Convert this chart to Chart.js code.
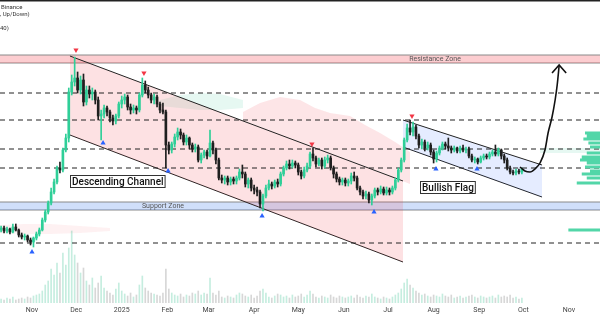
<!DOCTYPE html>
<html>
<head>
<meta charset="utf-8">
<script src="https://cdn.jsdelivr.net/npm/chart.js@4.4.0/dist/chart.umd.min.js"></script>
<style>
  html, body { margin: 0; padding: 0; background: #fff; }
  #wrap { width: 600px; height: 315px; }
</style>
</head>
<body>
<div id="wrap"><canvas id="myChart" width="600" height="315"></canvas></div>
<script>
// x values are days counted from 1 Nov 2024
const monthDays = [0, 30, 61, 92, 120, 151, 181, 212, 242, 273, 304, 334, 365]
const monthLabels = ['Nov', 'Dec', '2025', 'Feb', 'Mar', 'Apr', 'May', 'Jun', 'Jul', 'Aug', 'Sep', 'Oct', 'Nov']

// 2-day candles, first one on 11 Oct 2024
const firstDay = -21
const open = [70, 72, 69, 71, 68, 73, 70, 65, 63, 64, 60, 58, 62, 66, 70, 80, 88, 97, 108, 118,
  132, 130, 150, 162, 208, 218, 222, 210, 220, 198, 210, 206, 208, 200, 184, 186, 192, 188, 182, 179,
  184, 196, 200, 203, 193, 190, 192, 190, 205, 215, 210, 205, 200, 203, 196, 190, 188, 155, 150, 156,
  163, 168, 165, 158, 162, 155, 151, 153, 140, 145, 148, 144, 157, 150, 140, 122, 120, 122, 118, 121,
  119, 122, 128, 126, 116, 120, 112, 110, 108, 96, 104, 112, 116, 114, 118, 116, 126, 132, 136, 134,
  137, 135, 128, 124, 130, 134, 146, 142, 136, 140, 134, 140, 142, 132, 126, 121, 118, 120, 117, 119,
  124, 122, 112, 108, 104, 106, 100, 104, 110, 108, 111, 107, 110, 108, 112, 120, 130, 140, 160, 172,
  168, 173, 164, 155, 158, 152, 155, 148, 141, 147, 152, 156, 154, 152, 150, 152, 149, 152, 150, 151,
  144, 140, 141, 138, 142, 144, 143, 146, 148, 146, 150, 144, 140, 132, 128, 127, 129, 128]
const high = [74, 74, 73, 72, 76, 76, 71, 67, 66, 65, 62, 63, 68, 72, 82, 90, 99, 112, 121, 134,
  138, 152, 166, 212, 225, 243, 228, 224, 226, 214, 214, 212, 210, 203, 190, 195, 194, 190, 185, 186,
  198, 204, 206, 205, 196, 195, 194, 207, 222, 219, 213, 207, 206, 205, 198, 197, 190, 158, 158, 166,
  172, 171, 167, 165, 163, 157, 156, 155, 147, 150, 150, 170, 159, 152, 142, 125, 124, 124, 123, 123,
  124, 131, 135, 128, 122, 122, 115, 113, 110, 106, 115, 120, 118, 120, 121, 128, 134, 139, 140, 140,
  139, 137, 130, 133, 137, 148, 152, 144, 142, 142, 143, 145, 144, 134, 128, 123, 122, 122, 121, 127,
  128, 124, 114, 110, 109, 108, 106, 112, 112, 114, 113, 113, 112, 114, 122, 132, 142, 162, 176, 180,
  178, 175, 166, 161, 160, 158, 157, 150, 149, 154, 158, 158, 162, 154, 154, 153, 154, 155, 153, 153,
  146, 143, 142, 144, 146, 146, 148, 150, 155, 152, 151, 146, 142, 134, 130, 131, 131, 132]
const low = [68, 67, 67, 66, 67, 69, 63, 61, 60, 58, 55, 53, 60, 64, 69, 78, 86, 95, 106, 116,
  127, 128, 148, 158, 205, 214, 207, 206, 194, 195, 202, 200, 196, 180, 160, 182, 184, 178, 175, 176,
  182, 192, 196, 190, 186, 187, 186, 188, 203, 207, 202, 197, 196, 193, 187, 186, 132, 146, 147, 153,
  160, 161, 155, 155, 151, 148, 148, 138, 137, 142, 141, 143, 146, 136, 120, 117, 116, 115, 115, 116,
  116, 120, 122, 113, 112, 109, 106, 104, 92, 89, 102, 110, 111, 112, 113, 114, 124, 130, 131, 132,
  132, 125, 121, 122, 128, 132, 139, 133, 134, 131, 132, 137, 130, 122, 118, 115, 115, 114, 114, 116,
  119, 110, 105, 101, 101, 97, 95, 102, 105, 106, 105, 105, 105, 106, 110, 118, 128, 138, 158, 165,
  164, 161, 152, 151, 149, 150, 145, 137, 138, 145, 150, 151, 149, 147, 148, 147, 147, 148, 147, 142,
  138, 137, 136, 137, 140, 141, 141, 144, 144, 144, 141, 137, 130, 126, 125, 125, 126, 126]
const close = [72, 69, 71, 68, 73, 70, 65, 63, 64, 60, 58, 62, 66, 70, 80, 88, 97, 108, 118, 132,
  130, 150, 162, 208, 218, 222, 210, 220, 198, 210, 206, 208, 200, 184, 186, 192, 188, 182, 179, 184,
  196, 200, 203, 193, 190, 192, 190, 205, 215, 210, 205, 200, 203, 196, 190, 188, 155, 150, 156, 163,
  168, 165, 158, 162, 155, 151, 153, 140, 145, 148, 144, 157, 150, 140, 122, 120, 122, 118, 121, 119,
  122, 128, 126, 116, 120, 112, 110, 108, 96, 104, 112, 116, 114, 118, 116, 126, 132, 136, 134, 137,
  135, 128, 124, 130, 134, 146, 142, 136, 140, 134, 140, 142, 132, 126, 121, 118, 120, 117, 119, 124,
  122, 112, 108, 104, 106, 100, 104, 110, 108, 111, 107, 110, 108, 112, 120, 130, 140, 160, 172, 168,
  173, 164, 155, 158, 152, 155, 148, 141, 147, 152, 156, 154, 152, 150, 152, 149, 152, 150, 151, 144,
  140, 141, 138, 142, 144, 143, 146, 148, 146, 150, 144, 140, 132, 128, 127, 129, 128, 131]
const volume = [4, 3, 5, 4, 6, 3, 4, 5, 4, 6, 5, 7, 8, 9, 12, 18, 22, 34, 28, 40,
  30, 50, 38, 55, 72, 48, 40, 30, 35, 22, 18, 25, 15, 20, 27, 15, 12, 10, 8, 14,
  20, 12, 9, 7, 10, 6, 8, 18, 27, 15, 12, 10, 9, 8, 7, 10, 34, 14, 10, 8,
  7, 9, 6, 8, 7, 10, 9, 12, 8, 10, 9, 25, 10, 8, 12, 6, 5, 7, 6, 5,
  8, 10, 9, 7, 6, 8, 5, 7, 12, 14, 10, 6, 5, 7, 9, 8, 6, 7, 5, 8,
  6, 7, 9, 6, 8, 12, 9, 6, 5, 7, 6, 5, 8, 6, 5, 7, 6, 5, 6, 7,
  5, 8, 6, 5, 7, 6, 9, 6, 5, 4, 6, 5, 4, 6, 8, 10, 14, 20, 24, 18,
  15, 12, 10, 8, 9, 7, 6, 8, 7, 6, 9, 7, 6, 8, 5, 6, 7, 5, 6, 7,
  8, 6, 5, 7, 6, 5, 6, 7, 5, 8, 6, 7, 6, 8, 5, 6, 4, 5]

// horizontal levels
const dashedLevels = [207, 180, 151, 132, 57]
const resistanceZone = [237, 245]
const supportZone = [90, 98]

// descending channel and bullish flag (start / end)
const channelDays = [25.8, 252.2]
const channelUpper = [244, 119]
const channelLower = [165, 38]
const flagDays = [252.2, 346.7]
const flagUpper = [180, 135]
const flagLower = [153, 103]

// swing markers
const topDays = [29.9, 76.1, 190.3, 258.3]
const topValues = [250, 227, 156, 184]
const bottomDays = [0, 48.3, 92.5, 156.4, 232.5, 274.6, 302.5]
const bottomValues = [48, 157, 129, 84, 88, 131, 131]

// projected move
const arrowDays = [331.7, 335.1, 338.5, 341.9, 345.3, 348.7, 350.8, 353.5, 355.6, 357, 358.3]
const arrowValues = [133, 129, 128, 131, 137, 150, 167, 183, 200, 215, 234]
const arrowHeadDays = [353.5, 358.3, 363.1]
const arrowHeadValues = [227, 235, 227]

// cloud shading
const cloudADays = [-21.7, -4.8, 12.2, 32.6, 53]
const cloudATop = [75, 76, 76, 74, 72]
const cloudABottom = [67, 66, 66, 67, 69]
const cloudBDays = [87, 100.6, 114.2, 127.8, 143.4]
const cloudBTop = [200, 205, 207, 206, 200]
const cloudBBottom = [194, 192, 190, 190, 192]
const cloudCDays = [143.4, 155, 168.6, 182.2, 192.4, 202.6, 216.2, 226.4, 236.6, 246.8, 257]
const cloudCTop = [188, 197, 203, 200, 192, 187, 184, 175, 167, 158, 148]
const cloudCBottom = [179, 173, 165, 158, 152, 146, 139, 133, 128, 122, 116]
const cloudDDays = [345.3, 386.1]
const cloudDTop = [152, 152]
const cloudDBottom = [147, 147]

// volume profile rows
const profileValues = [167, 164, 161, 157, 153, 147, 143, 140, 137, 133, 129, 126, 122, 117, 70]
const profileStart = [375.9, 377.1, 374.8, 378.2, 379.3, 377.1, 373.7, 372.5, 377.1, 375.9, 379.3, 373.7, 377.1, 370.3, 364.6]

const xMin = -21.75
const xMax = 386.1

const upColor = '#2fcf98'
const downColor = '#1f1f1f'
const pink = 'rgba(242, 54, 69, 0.13)'
const teal = 'rgba(46, 200, 150, 0.12)'

let candleDays = open.map((v, i) => firstDay + 2 * i)
let candleColors = close.map((c, i) => c >= open[i] ? upColor : downColor)
let volumeColors = close.map((c, i) => c >= open[i] ? 'rgba(46, 190, 140, 0.28)' : 'rgba(110, 110, 110, 0.28)')

function pts(days, values) {
    return days.map((d, i) => ({ x: d, y: values[i] }))
}

function flatLine(v) {
    return [{ x: xMin, y: v }, { x: xMax, y: v }]
}

function band(top, bottom, fillColor, border, order) {
    return [
        { type: 'line', data: top, borderColor: border, borderWidth: border ? 1 : 0, backgroundColor: fillColor, fill: '+1', pointRadius: 0, order: order },
        { type: 'line', data: bottom, borderColor: border, borderWidth: border ? 1 : 0, pointRadius: 0, fill: false, order: order }
    ]
}

let dashedData = []
dashedLevels.forEach((v) => {
    dashedData.push({ x: xMin, y: v }, { x: xMax, y: v }, { x: xMax, y: null })
})

let profileData = []
profileValues.forEach((v, i) => {
    profileData.push({ x: profileStart[i], y: v }, { x: xMax, y: v }, { x: xMax, y: null })
})

const labels = {
    id: 'labels',
    afterDatasetsDraw(chart) {
        const c = chart.ctx
        c.save()
        // top frame line
        c.fillStyle = '#222'
        c.fillRect(0, 0, 600, 1.5)

        c.fillStyle = '#333'
        c.font = '6px Roboto'
        c.textBaseline = 'middle'
        c.fillText('Binance', 1, 7)
        c.fillText(', Up/Down)', 0, 14)
        c.fillText('40)', 0, 28)

        c.fillStyle = '#555'
        c.font = '7px Roboto'
        c.textAlign = 'center'
        let ys = chart.scales.y
        c.fillText('Resistance Zone', 435, ys.getPixelForValue((resistanceZone[0] + resistanceZone[1]) / 2))
        c.fillText('Support Zone', 163, ys.getPixelForValue((supportZone[0] + supportZone[1]) / 2))

        drawBox(c, 'Descending Channel', 70, 175)
        drawBox(c, 'Bullish Flag', 420, 181)
        c.restore()
    }
}

function drawBox(c, text, left, top) {
    c.font = '500 10px Roboto'
    let w = c.measureText(text).width + 4
    c.fillStyle = '#fff'
    c.fillRect(left, top, w, 13)
    c.strokeStyle = '#333'
    c.lineWidth = 1
    c.strokeRect(left + 0.5, top + 0.5, w - 1, 12)
    c.fillStyle = '#111'
    c.textAlign = 'left'
    c.textBaseline = 'middle'
    c.fillText(text, left + 2, top + 7)
}

const ctx = document.getElementById('myChart').getContext('2d')

let datasets = [
    // markers on top
    {
        type: 'line', data: pts(topDays, topValues), showLine: false, pointStyle: 'triangle', rotation: 180,
        pointRadius: 3, pointBackgroundColor: '#f23645', pointBorderWidth: 0, order: 0
    },
    {
        type: 'line', data: pts(bottomDays, bottomValues), showLine: false, pointStyle: 'triangle',
        pointRadius: 3, pointBackgroundColor: '#2962ff', pointBorderWidth: 0, order: 0
    },
    {
        type: 'line', data: pts(arrowDays, arrowValues), borderColor: '#111', borderWidth: 1.6,
        cubicInterpolationMode: 'monotone', pointRadius: 0, fill: false, order: 1
    },
    {
        type: 'line', data: pts(arrowHeadDays, arrowHeadValues), borderColor: '#111', borderWidth: 1.6,
        pointRadius: 0, fill: false, order: 1
    },
    // candles
    {
        type: 'bar', data: candleDays.map((d, i) => ({ x: d, y: [open[i], close[i]] })),
        backgroundColor: candleColors, barThickness: 2, grouped: false, order: 2
    },
    {
        type: 'bar', data: candleDays.map((d, i) => ({ x: d, y: [low[i], high[i]] })),
        backgroundColor: candleColors, barThickness: 1, grouped: false, order: 3
    },
    // volume + profile
    {
        type: 'bar', data: candleDays.map((d, i) => ({ x: d, y: volume[i] })), yAxisID: 'yv',
        backgroundColor: volumeColors, barThickness: 1, grouped: false, order: 6
    },
    {
        type: 'line', data: profileData, borderColor: '#52d6a8', borderWidth: 3, borderCapStyle: 'butt',
        pointRadius: 0, fill: false, spanGaps: false, order: 6
    },
    {
        type: 'line', data: dashedData, borderColor: '#222', borderWidth: 1, borderDash: [5, 4],
        pointRadius: 0, fill: false, spanGaps: false, order: 7
    },
    ...band(pts(channelDays, channelUpper), pts(channelDays, channelLower), 'rgba(242, 54, 69, 0.15)', '#222', 8),
    ...band(pts(flagDays, flagUpper), pts(flagDays, flagLower), 'rgba(41, 98, 255, 0.12)', '#222', 8),
    ...band(flatLine(resistanceZone[1]), flatLine(resistanceZone[0]), 'rgba(242, 54, 69, 0.25)', '#8a8a8a', 9),
    ...band(flatLine(supportZone[1]), flatLine(supportZone[0]), 'rgba(41, 110, 230, 0.22)', '#8a8a8a', 9),
    ...band(pts(cloudADays, cloudATop), pts(cloudADays, cloudABottom), 'rgba(242, 54, 69, 0.07)', null, 10),
    ...band(pts(cloudBDays, cloudBTop), pts(cloudBDays, cloudBBottom), teal, null, 10),
    ...band(pts(cloudCDays, cloudCTop), pts(cloudCDays, cloudCBottom), pink, null, 10),
    ...band(pts(cloudDDays, cloudDTop), pts(cloudDDays, cloudDBottom), teal, null, 10)
]

let myChart = new Chart(ctx, {
    type: 'bar',
    data: { datasets: datasets },
    options: {
        responsive: false,
        animation: false,
        layout: { padding: 0, autoPadding: false },
        plugins: { legend: { display: false }, tooltip: { enabled: false } },
        elements: { line: { tension: 0 } },
        scales: {
            x: {
                type: 'linear', min: xMin, max: xMax, offset: false,
                grid: { display: false, drawTicks: false }, border: { display: false },
                afterBuildTicks: (axis) => { axis.ticks = monthDays.map((v) => ({ value: v })) },
                afterFit: (axis) => { axis.height = 12 },
                ticks: {
                    autoSkip: false, maxRotation: 0, padding: 3, color: '#444',
                    font: { size: 7, family: 'Roboto' },
                    callback: (v) => monthLabels[monthDays.indexOf(v)]
                }
            },
            y: { min: -3, max: 300, display: false },
            yv: { min: 0, max: 303, display: false }
        }
    },
    plugins: [labels]
})
</script>
</body>
</html>
